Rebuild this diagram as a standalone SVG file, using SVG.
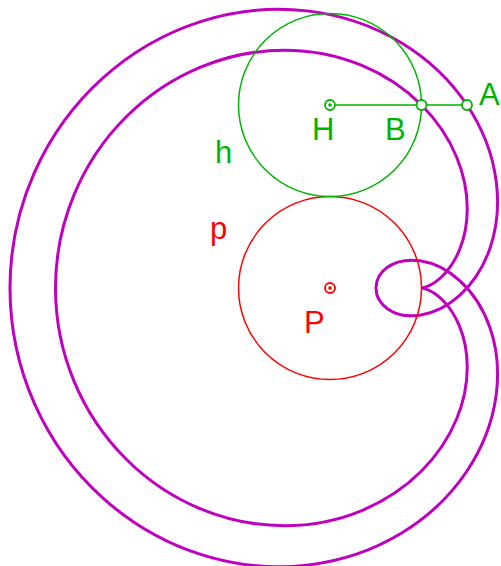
<svg xmlns="http://www.w3.org/2000/svg" width="501" height="566" viewBox="0 0 501 566">
<style>
.curve{fill:none;stroke:#bf00bf;stroke-width:3}
.g{stroke:#00b400;fill:none;stroke-width:1.5}
.r{stroke:#ff0000;fill:none;stroke-width:1.5}
.lbl{font-family:"Liberation Sans",Arial,sans-serif;font-size:31px}
.gt{fill:#00b400}
.rt{fill:#ff0000}
.pt{fill:#ffffff;stroke-width:1.8}
</style>
<rect width="501" height="566" fill="#ffffff"/>
<g id="connectors">
<path id="locusA" class="curve" d="M376 288 C376 280.059 380.297 272.146 388.119 266.864 C395.941 261.582 407.26 258.98 419.983 260.855 C432.706 262.73 446.782 269.109 459.401 280.401 C472.02 291.693 483.123 307.897 490 327.838 C496.877 347.779 499.479 371.423 496.009 396.264 C492.539 421.105 482.97 447.089 467 471 C451.03 494.911 428.662 516.69 401.281 533.264 C373.9 549.838 341.538 561.157 307 565.128 C272.462 569.099 235.802 565.693 200.599 554.401 C165.396 543.109 131.709 523.931 103.017 498.145 C74.325 472.359 50.68 439.997 34.591 403.864 C18.502 367.731 10 327.881 10 288 C10 248.119 18.502 208.269 34.591 172.136 C50.68 136.003 74.325 103.641 103.017 77.855 C131.709 52.069 165.396 32.891 200.599 21.599 C235.802 10.307 272.462 6.901 307 10.872 C341.538 14.843 373.9 26.162 401.281 42.736 C428.662 59.31 451.03 81.089 467 105 C482.97 128.911 492.539 154.895 496.009 179.736 C499.479 204.577 496.877 228.221 490 248.162 C483.123 268.103 472.02 284.307 459.401 295.599 C446.782 306.891 432.706 313.27 419.983 315.145 C407.26 317.02 395.941 314.418 388.119 309.136 C380.297 303.854 376 295.941 376 288 Z"/>
<path id="locusB" class="curve" d="M421.5 288 C421.5 288 423.671 288.019 427.523 289.614 C431.375 291.209 436.888 294.414 442.733 300.259 C448.578 306.104 454.724 314.609 459.401 325.901 C464.078 337.193 467.25 351.272 467.25 367.242 C467.25 383.212 464.046 401.051 456.605 419.014 C449.164 436.977 437.47 455.03 421.5 471 C405.53 486.97 385.287 500.817 361.877 510.514 C338.467 520.211 311.911 525.724 284.25 525.724 C256.589 525.724 227.861 520.193 200.599 508.901 C173.337 497.609 147.582 480.556 125.767 458.741 C103.952 436.926 86.113 410.37 73.995 381.114 C61.877 351.858 55.5 319.94 55.5 288 C55.5 256.06 61.877 224.142 73.995 194.886 C86.113 165.63 103.952 139.074 125.767 117.259 C147.582 95.444 173.337 78.391 200.599 67.099 C227.861 55.807 256.589 50.276 284.25 50.276 C311.911 50.276 338.467 55.789 361.877 65.486 C385.287 75.183 405.53 89.03 421.5 105 C437.47 120.97 449.164 139.023 456.605 156.986 C464.046 174.949 467.25 192.788 467.25 208.758 C467.25 224.728 464.078 238.807 459.401 250.099 C454.724 261.391 448.578 269.896 442.733 275.741 C436.888 281.586 431.375 284.791 427.523 286.386 C423.671 287.981 421.5 288 421.5 288 Z"/>
<line id="segHA" class="g" x1="330" y1="105" x2="467" y2="105"/>
</g>
<g id="circle-p"><circle class="r" cx="330" cy="288" r="91.5"/><text class="lbl rt" x="210" y="239">p</text></g>
<g id="circle-h"><circle class="g" cx="330" cy="105" r="91.5"/><text class="lbl gt" x="215" y="163">h</text></g>
<g id="point-P"><circle class="r pt" cx="330" cy="288" r="5"/><circle cx="330" cy="288" r="1.8" fill="#ff0000"/><text class="lbl rt" x="304" y="333">P</text></g>
<g id="point-H"><circle class="g pt" cx="330" cy="105" r="5"/><circle cx="330" cy="105" r="1.8" fill="#00b400"/><text class="lbl gt" x="312" y="140">H</text></g>
<g id="point-B"><circle class="g pt" cx="421.5" cy="105" r="5"/><text class="lbl gt" x="385" y="140">B</text></g>
<g id="point-A"><circle class="g pt" cx="467" cy="105" r="5"/><text class="lbl gt" x="479" y="105">A</text></g>
</svg>
